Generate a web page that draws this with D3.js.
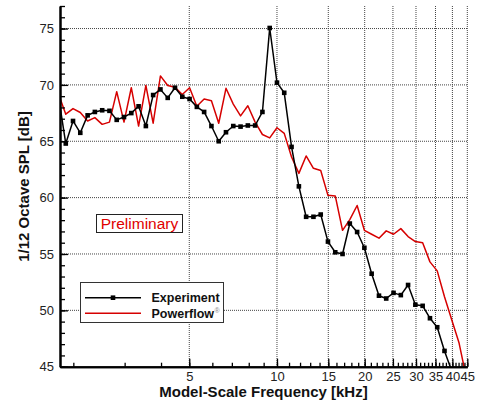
<!DOCTYPE html>
<html><head><meta charset="utf-8">
<script src="https://cdn.jsdelivr.net/npm/d3@7"></script>
<style>
html,body{margin:0;padding:0;background:#fff;}
svg{display:block;font-family:"Liberation Sans",Arial,Helvetica,sans-serif;}
</style></head>
<body>
<svg id="chart" width="483" height="406"></svg>
<script>
// 1/12-octave band centre frequencies [kHz]
const freqs = [1.778,1.884,1.995,2.113,2.239,2.371,2.512,2.661,2.818,2.985,
  3.162,3.350,3.548,3.758,3.981,4.217,4.467,4.732,5.012,5.309,
  5.623,5.957,6.310,6.683,7.079,7.499,7.943,8.414,8.913,9.441,
  10.00,10.59,11.22,11.89,12.59,13.34,14.13,14.96,15.85,16.79,
  17.78,18.84,19.95,21.13,22.39,23.71,25.12,26.61,28.18,29.85,
  31.62,33.50,35.48,37.58,39.81,42.17,44.67];
const experiment = [69.0,64.8,66.8,65.75,67.3,67.6,67.75,67.7,66.9,67.15,
  67.5,68.1,66.35,69.1,69.6,68.85,69.75,68.95,68.75,68.05,
  67.6,66.35,65.0,65.8,66.35,66.3,66.4,66.4,67.6,75.05,
  70.2,69.3,64.5,61.0,58.3,58.3,58.5,56.1,55.15,55.0,
  57.7,56.95,55.55,53.25,51.3,51.05,51.55,51.35,52.25,50.5,
  50.4,49.3,48.5,46.4,44.6];
const powerflow = [69.2,67.4,67.9,67.55,66.8,67.1,66.5,66.7,69.4,66.7,
  69.75,66.35,69.95,66.6,70.8,69.95,69.8,69.15,69.75,68.1,
  68.75,68.6,66.6,69.7,68.3,67.25,68.15,66.7,65.6,65.3,
  66.2,65.7,63.6,62.15,63.7,62.6,62.4,60.2,60.15,57.1,
  58.05,59.3,57.1,56.75,56.4,57.05,56.75,57.25,56.55,56.1,
  56.0,54.3,53.5,51.2,49.15,47.1,44.0];
const xTickValues = [5,10,15,20,25,30,35,40,45];
const xMinorTicks = [2,3,4,5,6,7,8,9,10,11,12,13,14,15,16,17,18,19,20,21,22,23,24,25,26,27,28,29,30,31,32,33,34,35,36,37,38,39,40,41,42,43,44,45];
const yTickValues = [45,50,55,60,65,70,75];
const yMinorTicks = d3.range(45,78,1);
const seriesNames = ["Experiment","Powerflow"];

const L=60, R=467.3, T=6, B=366.7;
const svg = d3.select("#chart");
const x = d3.scaleLog().domain([1.8,45]).range([L,R]);
const y = d3.scaleLinear().domain([45,77]).range([B,T]);

svg.append("defs").append("clipPath").attr("id","clip")
  .append("rect").attr("x",L).attr("y",T).attr("width",R-L).attr("height",B-T);

// grid
const grid = svg.append("g").attr("stroke","#444").attr("stroke-width",1).attr("stroke-dasharray","1,1");
grid.selectAll("line.v").data(xTickValues).join("line")
  .attr("x1",d=>x(d)).attr("x2",d=>x(d)).attr("y1",T).attr("y2",B);
grid.selectAll("line.h").data(yTickValues.filter(d=>d>45)).join("line")
  .attr("x1",L).attr("x2",R).attr("y1",d=>y(d)).attr("y2",d=>y(d));

// data
const expData = freqs.slice(0,experiment.length).map((f,i)=>({f,v:experiment[i]}));
const pfData = freqs.map((f,i)=>({f,v:powerflow[i]}));
const line = d3.line().x(d=>x(d.f)).y(d=>y(d.v));
const plot = svg.append("g").attr("clip-path","url(#clip)");
plot.append("path").datum(pfData).attr("d",line).attr("fill","none")
  .attr("stroke","#d60000").attr("stroke-width",1.5).attr("stroke-linejoin","round");
plot.append("path").datum(expData).attr("d",line).attr("fill","none")
  .attr("stroke","#000").attr("stroke-width",1.5).attr("stroke-linejoin","round");
plot.selectAll("rect.m").data(expData).join("rect")
  .attr("x",d=>x(d.f)-2.3).attr("y",d=>y(d.v)-2.3).attr("width",4.6).attr("height",4.6).attr("fill","#000");

// axes
const xMinor = svg.append("g").attr("transform",`translate(0,${B})`)
  .call(d3.axisBottom(x).tickValues(xMinorTicks).tickSize(-4).tickSizeOuter(0).tickFormat(""));
const xAxis = svg.append("g").attr("transform",`translate(0,${B})`)
  .call(d3.axisBottom(x).tickValues(xTickValues).tickSize(-8).tickSizeOuter(0).tickPadding(5).tickFormat(d3.format("d")));
const yMinor = svg.append("g").attr("transform",`translate(${L},0)`)
  .call(d3.axisLeft(y).tickValues(yMinorTicks).tickSize(-5).tickSizeOuter(0).tickFormat(""));
const yAxis = svg.append("g").attr("transform",`translate(${L},0)`)
  .call(d3.axisLeft(y).tickValues(yTickValues).tickSize(-8).tickSizeOuter(0).tickPadding(6).tickFormat(d3.format("d")));
[xMinor,xAxis,yMinor,yAxis].forEach(g=>{
  g.select(".domain").attr("stroke","#000").attr("stroke-width",2);
  g.selectAll(".tick line").attr("stroke","#000").attr("stroke-width",1.3);
  g.selectAll(".tick text").attr("fill","#222").attr("font-size",13)
    .attr("font-family","'Liberation Sans',Arial,sans-serif");
});

// titles
svg.append("text").attr("x",263.5).attr("y",397).attr("text-anchor","middle")
  .attr("font-weight","bold").attr("font-size",15).attr("fill","#111")
  .text("Model-Scale Frequency [kHz]");
svg.append("text").attr("transform","translate(29,186.5) rotate(-90)").attr("text-anchor","middle")
  .attr("font-weight","bold").attr("font-size",15).attr("fill","#111")
  .text("1/12 Octave SPL [dB]");

// Preliminary box
svg.append("rect").attr("x",96.5).attr("y",214.5).attr("width",86).attr("height",18)
  .attr("fill","#fff").attr("stroke","#222").attr("stroke-width",1);
svg.append("text").attr("x",139.5).attr("y",229).attr("text-anchor","middle")
  .attr("font-size",15.5).attr("fill","#e00000").text("Preliminary");

// legend
const lg = svg.append("g");
lg.append("rect").attr("x",80.5).attr("y",282.5).attr("width",143).attr("height",40)
  .attr("fill","#fff").attr("stroke","#333").attr("stroke-width",1);
const colors = ["#000","#d60000"];
const rowsY = [297.7,313.3];
seriesNames.forEach((n,i)=>{
  lg.append("line").attr("x1",85).attr("x2",141).attr("y1",rowsY[i]).attr("y2",rowsY[i])
    .attr("stroke",colors[i]).attr("stroke-width",1.5);
  const t = lg.append("text").attr("x",151.5).attr("y",rowsY[i]+4.3)
    .attr("font-weight","bold").attr("font-size",12.5).attr("fill","#111").text(n);
  if(i===1){
    t.append("tspan").attr("font-size",7).attr("font-weight","normal").attr("fill","#888")
      .attr("dy",-5).attr("dx",0.5).text("®");
  }
});
lg.append("rect").attr("x",113-2.3).attr("y",rowsY[0]-2.3).attr("width",4.6).attr("height",4.6).attr("fill","#000");
</script>
</body></html>
